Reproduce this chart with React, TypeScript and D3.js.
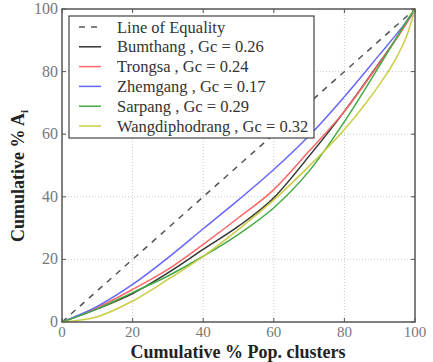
import { useEffect, useRef } from "react";
import * as d3 from "d3";

// cumulative % population clusters (x) and cumulative % A_i (y)
const X_VALUES = [0, 10, 20, 30, 40, 50, 60, 70, 80, 90, 95, 98, 100];

const BUMTHANG = [0, 4.2, 9.1, 15.7, 23.2, 30.6, 39.7, 53, 67.3, 83, 91, 96.3, 100];
const TRONGSA = [0, 4.6, 10.4, 16.8, 24.8, 33.3, 42.3, 54.6, 67.3, 82.8, 91, 96.2, 100];
const ZHEMGANG = [0, 5, 12, 20.5, 29.8, 39, 48.7, 59.5, 72, 85.5, 92.3, 96.6, 100];
const SARPANG = [0, 4.2, 9.4, 14.7, 21, 28, 36.5, 48.2, 64, 82, 91.3, 96.8, 100];
const WANGDI = [0, 1.7, 6.7, 13.6, 21, 29.6, 39, 49.8, 61.5, 76, 85, 92.5, 100];

const SERIES = [
  { name: "Bumthang", gc: "0.26", color: "#333333", values: BUMTHANG },
  { name: "Trongsa", gc: "0.24", color: "#ff6666", values: TRONGSA },
  { name: "Zhemgang", gc: "0.17", color: "#6666ff", values: ZHEMGANG },
  { name: "Sarpang", gc: "0.29", color: "#44aa44", values: SARPANG },
  { name: "Wangdiphodrang", gc: "0.32", color: "#cccc44", values: WANGDI },
];

const TICKS = [0, 20, 40, 60, 80, 100];
const FONT = `"Liberation Serif", "DejaVu Serif", "Times New Roman", serif`;

export default function App() {
  const svgRef = useRef<SVGSVGElement>(null);

  useEffect(() => {
    if (!svgRef.current) return;
    const svg = d3.select(svgRef.current);
    svg.selectAll("*").remove();

    const left = 62, right = 415, top = 9, bottom = 322;
    const x = d3.scaleLinear().domain([0, 100]).range([left, right]);
    const y = d3.scaleLinear().domain([0, 100]).range([bottom, top]);

    // grid
    [20, 40, 60, 80].forEach((t) => {
      svg.append("line")
        .attr("x1", x(t)).attr("x2", x(t)).attr("y1", top).attr("y2", bottom)
        .attr("stroke", "#bbb").attr("stroke-width", 0.8).attr("stroke-dasharray", "1,2");
      svg.append("line")
        .attr("x1", left).attr("x2", right).attr("y1", y(t)).attr("y2", y(t))
        .attr("stroke", "#bbb").attr("stroke-width", 0.8).attr("stroke-dasharray", "1,2");
    });

    // ticks (inward, all four sides)
    TICKS.forEach((t) => {
      svg.append("line").attr("x1", x(t)).attr("x2", x(t)).attr("y1", bottom).attr("y2", bottom - 4)
        .attr("stroke", "#555");
      svg.append("line").attr("x1", x(t)).attr("x2", x(t)).attr("y1", top).attr("y2", top + 4)
        .attr("stroke", "#555");
      svg.append("line").attr("x1", left).attr("x2", left + 4).attr("y1", y(t)).attr("y2", y(t))
        .attr("stroke", "#555");
      svg.append("line").attr("x1", right).attr("x2", right - 4).attr("y1", y(t)).attr("y2", y(t))
        .attr("stroke", "#555");

      svg.append("text")
        .attr("x", x(t)).attr("y", bottom + 15)
        .attr("text-anchor", "middle")
        .attr("fill", "#777").style("font-size", "15px").style("font-family", FONT)
        .text(t);
      svg.append("text")
        .attr("x", left - 4).attr("y", y(t) + 5)
        .attr("text-anchor", "end")
        .attr("fill", "#777").style("font-size", "16px").style("font-family", FONT)
        .text(t);
    });

    // line of equality
    svg.append("line")
      .attr("x1", x(0)).attr("y1", y(0)).attr("x2", x(100)).attr("y2", y(100))
      .attr("stroke", "#555").attr("stroke-width", 1.5).attr("stroke-dasharray", "6,6");

    const line = d3.line<number>()
      .x((_, i) => x(X_VALUES[i]))
      .y((d) => y(d))
      .curve(d3.curveMonotoneX);

    SERIES.forEach((s) => {
      svg.append("path")
        .datum(s.values)
        .attr("fill", "none")
        .attr("stroke", s.color)
        .attr("stroke-width", 1.5)
        .attr("d", line);
    });

    // frame
    svg.append("rect")
      .attr("x", left).attr("y", top).attr("width", right - left).attr("height", bottom - top)
      .attr("fill", "none").attr("stroke", "#555").attr("stroke-width", 1.5);

    // legend
    const lg = svg.append("g");
    lg.append("rect")
      .attr("x", 69).attr("y", 16).attr("width", 245).attr("height", 122)
      .attr("fill", "white").attr("stroke", "#444").attr("stroke-width", 1.2);

    const entries = [
      { label: "Line of Equality", color: "#555", dash: "6,6" },
      ...SERIES.map((s) => ({ label: `${s.name} , Gc = ${s.gc}`, color: s.color, dash: "" })),
    ];
    entries.forEach((e, i) => {
      const yy = 27 + i * 19.8;
      lg.append("line")
        .attr("x1", 79).attr("x2", 101).attr("y1", yy).attr("y2", yy)
        .attr("stroke", e.color).attr("stroke-width", 1.5)
        .attr("stroke-dasharray", e.dash || null);
      lg.append("text")
        .attr("x", 117).attr("y", yy + 5.5)
        .attr("fill", "#333").style("font-size", "16.5px").style("font-family", FONT)
        .text(e.label);
    });

    // axis labels
    svg.append("text")
      .attr("x", 238).attr("y", 358)
      .attr("text-anchor", "middle")
      .attr("fill", "#222").style("font-size", "18px").style("font-weight", "bold").style("font-family", FONT)
      .text("Cumulative % Pop. clusters");

    const yl = svg.append("text")
      .attr("transform", "translate(24,176) rotate(-90)")
      .attr("text-anchor", "middle")
      .attr("fill", "#222").style("font-size", "18px").style("font-weight", "bold").style("font-family", FONT);
    yl.append("tspan").text("Cumulative % A");
    yl.append("tspan").style("font-size", "11px").attr("dy", 4).text("i");
  }, []);

  return (
    <svg
      ref={svgRef}
      width={433}
      height={362}
      style={{ position: "absolute", left: 0, top: 0, background: "white" }}
    />
  );
}
